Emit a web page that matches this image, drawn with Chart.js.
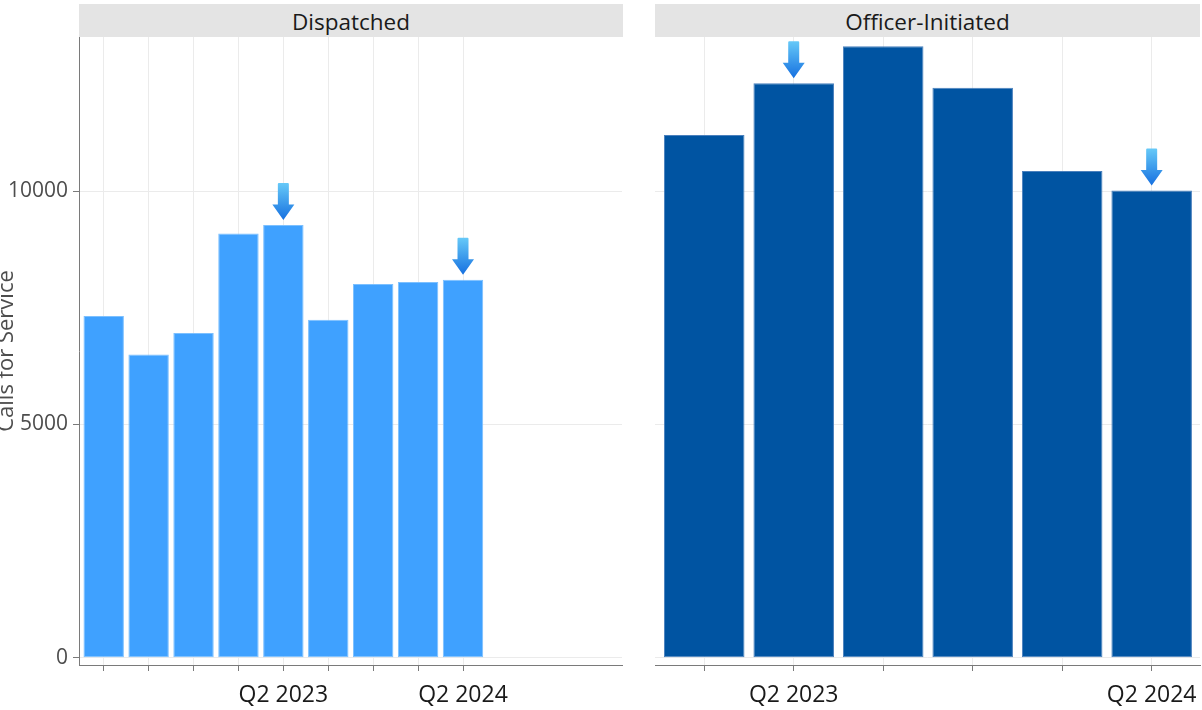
<!DOCTYPE html>
<html><head><meta charset="utf-8">
<script src="https://cdn.jsdelivr.net/npm/chart.js@4.4.1/dist/chart.umd.min.js"></script>
<style>
html,body{margin:0;padding:0;background:#fff;width:1202px;height:710px;overflow:hidden;font-family:"Open Sans",sans-serif}
.strip{position:absolute;top:4px;height:33px;background:#e4e4e4;color:#1a1a1a;font-size:22.5px;line-height:36px;text-align:center;overflow:hidden;white-space:nowrap}
#cL{position:absolute;left:0;top:0}
#cR{position:absolute;left:623px;top:0}
</style></head><body>
<div class="strip" style="left:79px;width:544px">Dispatched</div>
<div class="strip" style="left:655px;width:545px">Officer-Initiated</div>
<canvas id="cL" width="623" height="710"></canvas>
<canvas id="cR" width="579" height="710"></canvas>
<script>
// ---- data ----
const dispatchedQuarters = ['Q2 2022','Q3 2022','Q4 2022','Q1 2023','Q2 2023','Q3 2023','Q4 2023','Q1 2024','Q2 2024','Q3 2024','Q4 2024','Q1 2025'];
const dispatchedValues = [7320, 6500, 6960, 9090, 9270, 7240, 8010, 8050, 8100];
const officerQuarters = ['Q1 2023','Q2 2023','Q3 2023','Q4 2023','Q1 2024','Q2 2024'];
const officerValues = [11200, 12310, 13100, 12210, 10430, 10010];
const labeledQuarters = ['Q2 2023','Q2 2024'];
const arrowQuarters = ['Q2 2023','Q2 2024'];
const yTickValues = [0, 5000, 10000];
const yAxisTitle = 'Calls for Service';

// ---- arrow plugin: draws markers above the bars for chosen quarters ----
const arrowPlugin = {
  id: 'arrows',
  afterDatasetsDraw(chart) {
    const o = chart.options.plugins.arrows;
    if (!o) return;
    const ctx = chart.ctx;
    const meta = chart.getDatasetMeta(0);
    o.marked.forEach(q => {
      const i = o.quarters.indexOf(q);
      const bar = meta.data[i];
      if (!bar) return;
      const x = bar.x, tip = bar.y - 5;
      const H = 37, shaftW = 11, headW = 22, headH = 15.5;
      const top = tip - H;
      const g = ctx.createLinearGradient(0, top, 0, tip);
      g.addColorStop(0, '#66c9f8');
      g.addColorStop(1, '#1670e0');
      ctx.save();
      ctx.fillStyle = g;
      ctx.beginPath();
      ctx.moveTo(x - shaftW / 2, top + 1);
      ctx.quadraticCurveTo(x - shaftW / 2, top, x - shaftW / 2 + 1, top);
      ctx.lineTo(x + shaftW / 2 - 1, top);
      ctx.quadraticCurveTo(x + shaftW / 2, top, x + shaftW / 2, top + 1);
      ctx.lineTo(x + shaftW / 2, tip - headH);
      ctx.lineTo(x + headW / 2, tip - headH);
      ctx.lineTo(x, tip);
      ctx.lineTo(x - headW / 2, tip - headH);
      ctx.lineTo(x - shaftW / 2, tip - headH);
      ctx.closePath();
      ctx.fill();
      ctx.restore();
    });
  }
};

const FONT = '"Open Sans", sans-serif';
const GRID = '#ebebeb';
const AXIS = '#7a7a7a';

function makeChart(id, quarters, values, fill, border, showY, yWidth, padRight) {
  const nCat = quarters.length;
  return new Chart(document.getElementById(id), {
    type: 'bar',
    data: {
      datasets: [{
        data: values.map((v, i) => ({ x: i, y: v })),
        backgroundColor: fill,
        borderColor: border,
        borderWidth: 1,
        borderSkipped: false,
        barPercentage: 0.9,
        categoryPercentage: 1
      }]
    },
    plugins: [arrowPlugin],
    options: {
      responsive: false,
      animation: false,
      devicePixelRatio: 1,
      layout: { padding: { top: 37, right: padRight, left: 0, bottom: 0 } },
      plugins: {
        legend: { display: false },
        tooltip: { enabled: false },
        arrows: { quarters: quarters, marked: arrowQuarters }
      },
      scales: {
        x: {
          type: 'linear',
          offset: false,
          min: -0.55,
          max: nCat - 1 + 0.54,
          afterBuildTicks: s => { s.ticks = values.map((v, i) => ({ value: i })); },
          afterFit: s => { s.height = 45; s.paddingLeft = 0; s.paddingRight = 0; },
          ticks: {
            autoSkip: false, maxRotation: 0, minRotation: 0,
            padding: 11,
            color: '#1a1a1a',
            font: { family: FONT, size: 23 },
            callback: v => (labeledQuarters.includes(quarters[v]) ? quarters[v] : '')
          },
          grid: { color: GRID, tickColor: AXIS, tickLength: 6, offset: false, drawTicks: true },
          border: { display: true, color: AXIS, width: 1 }
        },
        y: {
          type: 'linear',
          min: -155,
          max: 13300,
          afterBuildTicks: s => { s.ticks = yTickValues.map(v => ({ value: v })); },
          afterFit: s => { s.width = yWidth; s.paddingTop = 0; s.paddingBottom = 0; },
          ticks: {
            display: showY,
            padding: 5,
            color: '#4d4d4d',
            font: { family: FONT, size: 21 },
            callback: v => String(v)
          },
          grid: { color: GRID, tickColor: AXIS, tickLength: 6, drawTicks: showY },
          border: { display: showY, color: AXIS, width: 1 },
          title: {
            display: showY,
            text: yAxisTitle,
            color: '#4d4d4d',
            font: { family: FONT, size: 22 },
            padding: { top: -6, bottom: 0 }
          }
        }
      }
    }
  });
}

makeChart('cL', dispatchedQuarters, dispatchedValues, '#3fa1ff', '#7cc0ff', true, 79, 1);
makeChart('cR', officerQuarters, officerValues, '#0054a2', '#4a80bd', false, 32, 2);
</script>
</body></html>
